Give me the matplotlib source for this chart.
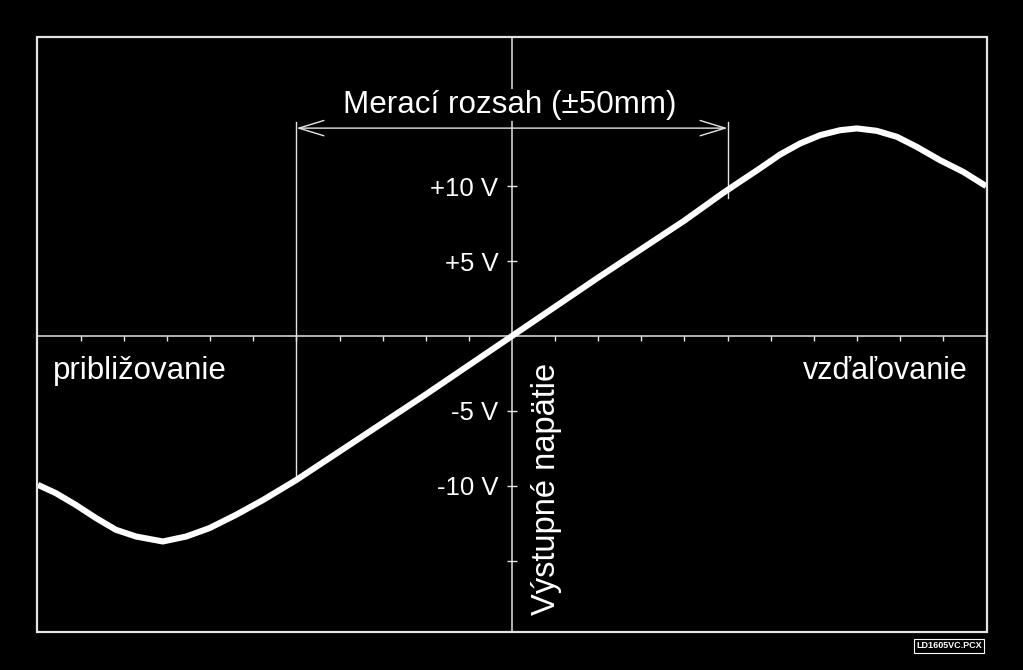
import matplotlib.pyplot as plt
from matplotlib.patches import Rectangle

plt.rcParams['font.family'] = ['Liberation Sans', 'DejaVu Sans']

# curve: position (mm) vs output voltage (V)
pos_mm = [-110, -105.8, -101.2, -96.5, -91.9, -87.2, -81, -75.6, -70.2, -64, -57.8,
          -55.2, -50, -40, -30, -20, -10, 0, 10, 20, 30, 40, 49, 52.9, 57.5, 62.2,
          66.8, 71.5, 76.1, 80, 84.6, 89.3, 93.9, 99.3, 104.7, 110]
voltage = [-9.93, -10.49, -11.27, -12.15, -12.93, -13.38, -13.71, -13.38, -12.82,
           -11.93, -10.95, -10.5, -9.6, -7.7, -5.8, -3.9, -1.95, 0, 1.95, 3.9, 5.8,
           7.7, 9.55, 10.3, 11.18, 12.11, 12.84, 13.4, 13.73, 13.85, 13.69, 13.29,
           12.62, 11.73, 10.95, 10.0]

x_ticks = [-100, -90, -80, -70, -60, -50, -40, -30, -20, -10,
           10, 20, 30, 40, 50, 60, 70, 80, 90, 100]
y_ticks = [-15, -10, -5, 5, 10, 15]
y_tick_labels = ['', '-10 V', '-5 V', '+5 V', '+10 V', '']

# measuring range markers
range_edges = [-50, 50]
range_bottoms = [-9.6, 9.2]
range_top = 14.3
arrow_level = 13.87

fg = '#e4e4e4'

fig = plt.figure(figsize=(10.23, 6.70), dpi=100, facecolor='black')
ax = fig.add_axes([37 / 1023, 38 / 670, 950 / 1023, 595 / 670])
ax.set_facecolor('black')
ax.set_xlim(-110.2, 110.2)
ax.set_ylim(-19.75, 19.95)

# centre axes
for s in ['top', 'right']:
    ax.spines[s].set_visible(False)
for s in ['left', 'bottom']:
    ax.spines[s].set_position(('data', 0))
    ax.spines[s].set_color(fg)
    ax.spines[s].set_linewidth(1.1)

# outer frame
ax.add_patch(Rectangle((0, 0), 1, 1, transform=ax.transAxes, fill=False,
                       edgecolor=fg, linewidth=1.6, clip_on=False, zorder=5))

ax.set_xticks(x_ticks)
ax.set_xticklabels([])
ax.tick_params(axis='x', direction='out', length=3.8, width=1, color=fg)
ax.set_yticks(y_ticks)
ax.set_yticklabels(y_tick_labels)
ax.tick_params(axis='y', direction='inout', length=7.5, width=1, color=fg,
               labelcolor='white', labelsize=18.5, pad=6)

# output curve
ax.plot(pos_mm, voltage, color='white', linewidth=4.4, solid_joinstyle='round',
        solid_capstyle='butt', zorder=4)

# measuring range
for xe, yb in zip(range_edges, range_bottoms):
    ax.plot([xe, xe], [range_top, yb], color=fg, linewidth=1.0, zorder=3)
ax.annotate('', xy=(range_edges[0], arrow_level), xytext=(range_edges[1], arrow_level),
            arrowprops=dict(arrowstyle='<->,head_length=1.8,head_width=0.55',
                            color=fg, linewidth=1.0, shrinkA=0, shrinkB=0))
ax.text(-0.6, 15.4, 'Merací rozsah (±50mm)', color='white', fontsize=22.6,
        ha='center', va='center', zorder=6,
        bbox=dict(facecolor='black', edgecolor='none', pad=1))

ax.text(-106.5, -2.87, 'približovanie', color='white', fontsize=22.5,
        ha='left', va='baseline')
ax.text(105.8, -2.87, 'vzďaľovanie', color='white', fontsize=22,
        ha='right', va='baseline')
ax.text(7.9, -18.6, 'Výstupné napätie', color='white', fontsize=23.5,
        rotation=90, ha='center', va='bottom')

fig.text(949 / 1023, 1 - 646 / 670, 'LD1605VC.PCX', color='white', fontsize=6.5,
         fontweight='bold', ha='center', va='center',
         bbox=dict(facecolor='black', edgecolor='white', linewidth=0.8, pad=1.5))

fig.savefig('out.png', dpi=100, facecolor='black')
